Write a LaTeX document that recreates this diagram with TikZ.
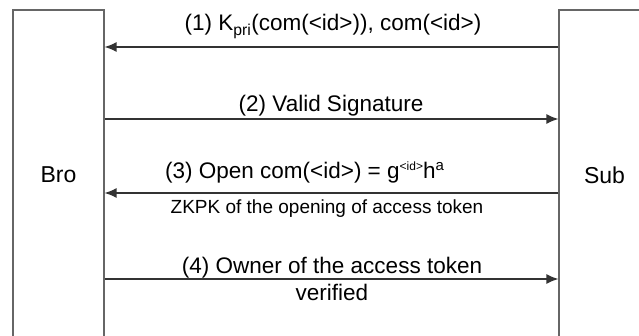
\documentclass[tikz,border=0pt]{standalone}
\usepackage{fontspec}
\setmainfont{Liberation Sans}
\usetikzlibrary{arrows.meta}
\newcommand{\supsm}[2]{\raisebox{8pt}{\fontsize{#2}{14}\selectfont #1}}
\begin{document}
\begin{tikzpicture}[x=1pt,y=-1pt,
  party/.style={draw=black!60,line width=1.2pt,minimum width=91pt,minimum height=330pt,inner sep=0pt,font=\fontsize{23}{26}\selectfont},
  msg/.style={draw=black!80,line width=1.3pt,-{Latex[length=12pt,width=10pt]}},
  lbl/.style={anchor=base,inner sep=0pt,font=\fontsize{22.5}{26}\selectfont},
  small/.style={anchor=base,inner sep=0pt,font=\fontsize{19}{22}\selectfont}]
\useasboundingbox (0,0) rectangle (639,336);
\clip (0,0) rectangle (639,336);
\node[party] (bro) at (58.5,175) {Bro};
\node[party] (sub) at (604.5,175) {Sub};
\coordinate (y1) at (0,47);
\coordinate (y2) at (0,119);
\coordinate (y3) at (0,193);
\coordinate (y4) at (0,279);
\draw[msg] (sub.west |- y1) -- (bro.east |- y1);
\draw[msg] (bro.east |- y2) -- (sub.west |- y2);
\draw[msg] (sub.west |- y3) -- (bro.east |- y3);
\draw[msg] (bro.east |- y4) -- (sub.west |- y4);
\node[lbl] (l1) at (333,31) {(1) K\textsubscript{pri}(com(<id>)), com(<id>)};
\node[lbl] (l2) at (331,112) {(2) Valid Signature};
\node[lbl,anchor=base west] (l3) at (165,179) {(3) Open com(<id>) = g\supsm{<id>}{12}h\supsm{a}{15}};
\node[small] (l3b) at (327,214) {ZKPK of the opening of access token};
\node[lbl] (l4) at (332,273) {(4) Owner of the access token};
\node[lbl] (l4b) at (332,300) {verified};
\end{tikzpicture}
\end{document}
